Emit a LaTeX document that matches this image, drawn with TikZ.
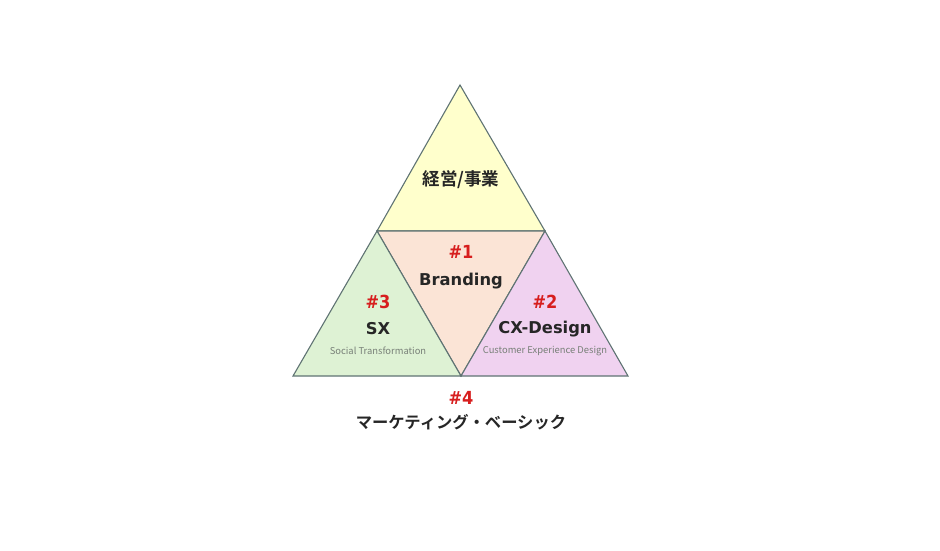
\documentclass[tikz,border=0pt]{standalone}
\usepackage{fontspec}
\setmainfont{Noto Sans CJK JP}[BoldFont={* Bold}]
\newfontfamily\jpb{Noto Sans CJK JP Bold}
\newfontfamily\latb{DejaVu Sans Bold}
\newfontfamily\numf{DejaVu Sans Condensed Bold}
\newfontfamily\lat{Noto Sans CJK JP}
\definecolor{cyel}{RGB}{255,255,204}
\definecolor{cpeach}{RGB}{251,228,214}
\definecolor{cgreen}{RGB}{222,242,212}
\definecolor{cpurp}{RGB}{240,210,240}
\definecolor{cedge}{RGB}{95,115,115}
\definecolor{cred}{RGB}{215,30,30}
\definecolor{cgrey}{RGB}{120,128,120}
\tikzset{
  tri/.style={draw=cedge, line width=1.1pt, line join=miter},
  num/.style={text=cred, font=\numf\fontsize{18}{18}\selectfont, inner sep=0pt},
  ttl/.style={text=black!85, font=\latb\fontsize{16.3}{17}\selectfont, inner sep=0pt},
  sub/.style={text=cgrey, font=\lat\fontsize{9.4}{10}\selectfont, inner sep=0pt},
}
\begin{document}
\begin{tikzpicture}[x=1pt,y=-1pt]
\useasboundingbox (0,0) rectangle (940,550);
\coordinate (A) at (460,85);
\coordinate (L) at (293,376);
\coordinate (R) at (628,376);
\coordinate (ML) at (377,231);
\coordinate (MR) at (545,231);
\coordinate (MB) at (461,376);
\filldraw[tri, fill=cyel] (A) -- (MR) -- (ML) -- cycle;
\filldraw[tri, fill=cpeach] (ML) -- (MR) -- (MB) -- cycle;
\filldraw[tri, fill=cgreen] (ML) -- (MB) -- (L) -- cycle;
\filldraw[tri, fill=cpurp] (MR) -- (R) -- (MB) -- cycle;
\node[text=black!85, font=\jpb\fontsize{17.5}{18}\selectfont, inner sep=0pt] (top) at (461,180) {経営/事業};
\node[num] (n1) at (461,252) {\#1};
\node[ttl] (br) at (461,281) {Branding};
\node[num] (n3) at (378,302) {\#3};
\node[ttl] (sx) at (378,329) {SX};
\node[sub] (sxs) at (378,351) {Social Transformation};
\node[num] (n2) at (545,302) {\#2};
\node[ttl] (cx) at (545,329) {CX-Design};
\node[sub] (cxs) at (545,351) {Customer Experience Design};
\node[num] (n4) at (461,398) {\#4};
\node[text=black!85, font=\jpb\fontsize{16.3}{16}\selectfont, inner sep=0pt] (mk) at (461,422) {マーケティング・ベーシック};
\end{tikzpicture}
\end{document}
